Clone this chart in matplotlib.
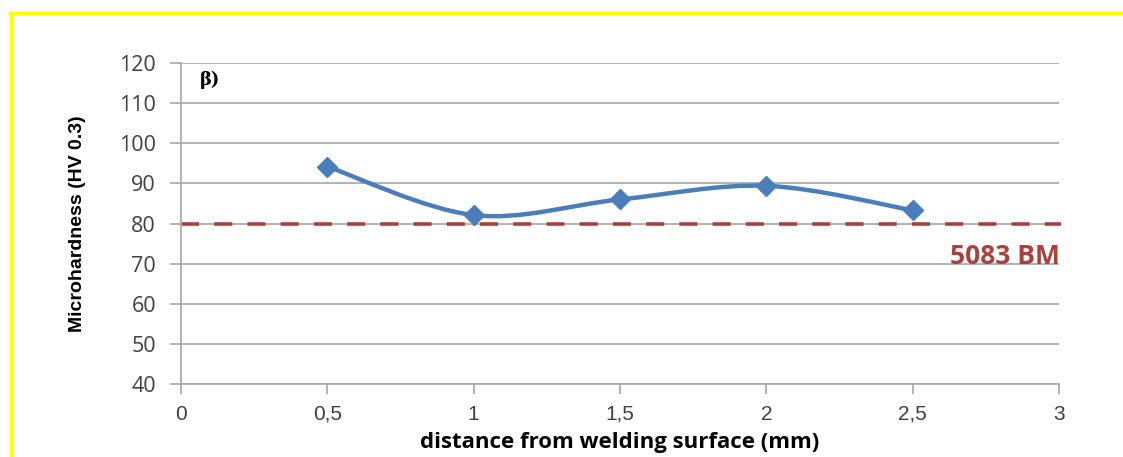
import matplotlib
matplotlib.use("Agg")
import matplotlib.pyplot as plt
from matplotlib.path import Path
from matplotlib.patches import PathPatch
from matplotlib.lines import Line2D

# data
distance = [0.5, 1.0, 1.5, 2.0, 2.5]
hardness = [94.2, 82.1, 86.0, 89.4, 83.3]
base_metal = 80
x_ticks = [0, 0.5, 1, 1.5, 2, 2.5, 3]
x_labels = ["0", "0,5", "1", "1,5", "2", "2,5", "3"]
y_ticks = [40, 50, 60, 70, 80, 90, 100, 110, 120]

blue = "#4A7EBB"
red = "#A9403D"
grid = "#ABABAB"

fig = plt.figure(figsize=(11.23, 4.57), dpi=100)
ax = fig.add_axes([0.1612, 0.1597, 0.7818, 0.7024])

# smoothed line through points (Excel-like cardinal spline as bezier segments)
verts = [(distance[0], hardness[0])]
codes = [Path.MOVETO]
n = len(distance)
for i in range(n - 1):
    p0 = (distance[max(i - 1, 0)], hardness[max(i - 1, 0)])
    p1 = (distance[i], hardness[i])
    p2 = (distance[i + 1], hardness[i + 1])
    p3 = (distance[min(i + 2, n - 1)], hardness[min(i + 2, n - 1)])
    c1 = (p1[0] + (p2[0] - p0[0]) / 6, p1[1] + (p2[1] - p0[1]) / 6)
    c2 = (p2[0] - (p3[0] - p1[0]) / 6, p2[1] - (p3[1] - p1[1]) / 6)
    verts += [c1, c2, p2]
    codes += [Path.CURVE4] * 3
ax.add_patch(PathPatch(Path(verts, codes), facecolor="none", edgecolor=blue,
                       lw=3.2, zorder=3))
ax.plot(distance, hardness, linestyle="none", marker="D", markersize=10,
        color=blue, zorder=4)

# base metal dashed line, runs a bit past the axis
ax.add_line(Line2D([0, 3.007], [base_metal, base_metal], color=red, lw=2.6,
                   dashes=(5, 4.2), clip_on=False, zorder=2))
ax.text(3.003, 71.8, "5083 BM", color=red, fontsize=19, fontweight="bold",
        family=["Open Sans", "DejaVu Sans"], ha="right", va="center")

ax.text(0.065, 115.9, "β)", fontsize=13, fontweight="bold",
        family=["DejaVu Serif"], ha="left", va="center")

ax.set_xlim(0, 3)
ax.set_ylim(40, 120)
ax.set_xticks(x_ticks)
ax.set_xticklabels(x_labels)
ax.set_yticks(y_ticks)
ax.grid(axis="y", color=grid, lw=1.3)
ax.set_axisbelow(True)
for s in ["top", "right"]:
    ax.spines[s].set_visible(False)
for s in ["left", "bottom"]:
    ax.spines[s].set_color(grid)
    ax.spines[s].set_linewidth(1.3)
ax.tick_params(axis="y", length=8, width=1.3, color=grid, labelsize=15.5,
               labelcolor="#404040", pad=10)
ax.tick_params(axis="x", length=7, width=1.3, color=grid, labelsize=15,
               labelcolor="#404040", pad=8)
for lab in ax.get_yticklabels():
    lab.set_family(["Open Sans", "DejaVu Sans"])
for lab in ax.get_xticklabels():
    lab.set_family(["Liberation Sans", "DejaVu Sans"])

ax.set_ylabel("Microhardness (HV 0.3)", fontsize=14, fontweight="bold",
              family=["Liberation Sans", "DejaVu Sans"], labelpad=24)
ax.set_xlabel("distance from welding surface (mm)", fontsize=16,
              fontweight="bold", family=["Open Sans", "DejaVu Sans"],
              labelpad=6)

# yellow frame
fig.add_artist(Line2D([10 / 1123, 1.0], [1 - 13 / 457, 1 - 13 / 457],
                      color="#FFFF00", lw=2.5))
fig.add_artist(Line2D([11 / 1123, 11 / 1123], [0, 1 - 13 / 457],
                      color="#FFFF00", lw=2.5))

fig.savefig("out.png", dpi=100)
